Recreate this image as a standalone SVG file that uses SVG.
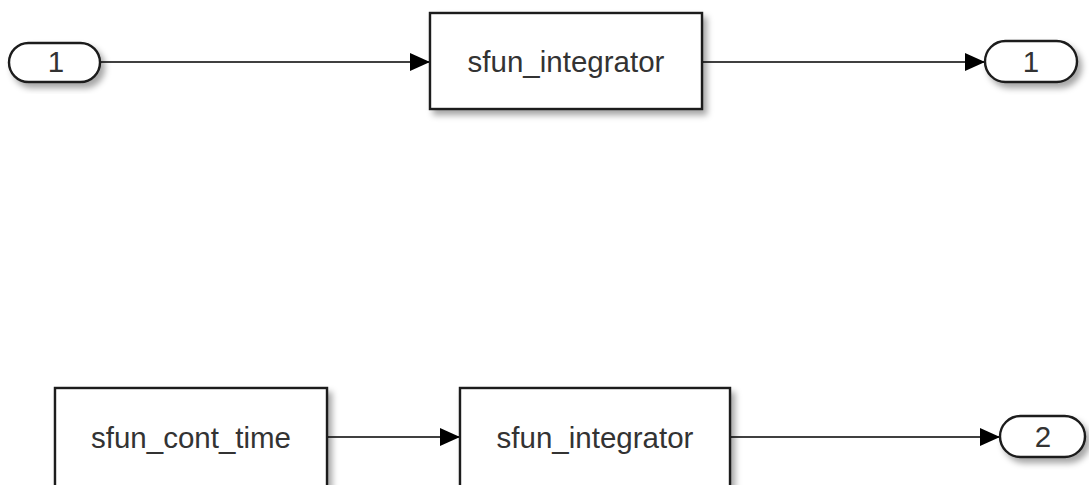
<svg xmlns="http://www.w3.org/2000/svg" width="1089" height="485" viewBox="0 0 1089 485">
<defs>
<filter id="sh" x="-10%" y="-20%" width="130%" height="150%">
<feDropShadow dx="4" dy="5" stdDeviation="3" flood-color="#000" flood-opacity="0.35"/>
</filter>
<marker id="arr" viewBox="0 0 20 18" refX="20" refY="9" markerWidth="20" markerHeight="18" markerUnits="userSpaceOnUse" orient="auto">
<path d="M0,0 L20,9 L0,18 Z" fill="#000"/>
</marker>
<style>
.blk{fill:#fff;stroke:#1a1a1a;stroke-width:2.4;filter:url(#sh)}
.lbl{font-family:"Liberation Sans",Arial,sans-serif;font-size:29.5px;fill:#333;text-anchor:middle}
.con{fill:none;stroke:#000;stroke-width:1.6;marker-end:url(#arr)}
</style>
</defs>
<rect width="1089" height="485" fill="#fff"/>
<g id="connectors">
<path class="con" d="M100,62 L430,62"/>
<path class="con" d="M702,62 L985,62"/>
<path class="con" d="M327,437 L460,437"/>
<path class="con" d="M730,437 L1000,437"/>
</g>
<g id="in1">
<rect class="blk" x="9" y="43" width="91" height="39" rx="19.5"/>
<text class="lbl" x="56" y="72">1</text>
</g>
<g id="integrator1">
<rect class="blk" x="430" y="13" width="272" height="96"/>
<text class="lbl" x="566" y="72">sfun_integrator</text>
</g>
<g id="out1">
<rect class="blk" x="985" y="41" width="92" height="41" rx="20.5"/>
<text class="lbl" x="1031" y="72">1</text>
</g>
<g id="cont_time">
<rect class="blk" x="55" y="388" width="272" height="100"/>
<text class="lbl" x="191" y="448">sfun_cont_time</text>
</g>
<g id="integrator2">
<rect class="blk" x="460" y="388" width="270" height="100"/>
<text class="lbl" x="595" y="448">sfun_integrator</text>
</g>
<g id="out2">
<rect class="blk" x="1000" y="416" width="85" height="41" rx="20.5"/>
<text class="lbl" x="1043" y="447">2</text>
</g>
</svg>
